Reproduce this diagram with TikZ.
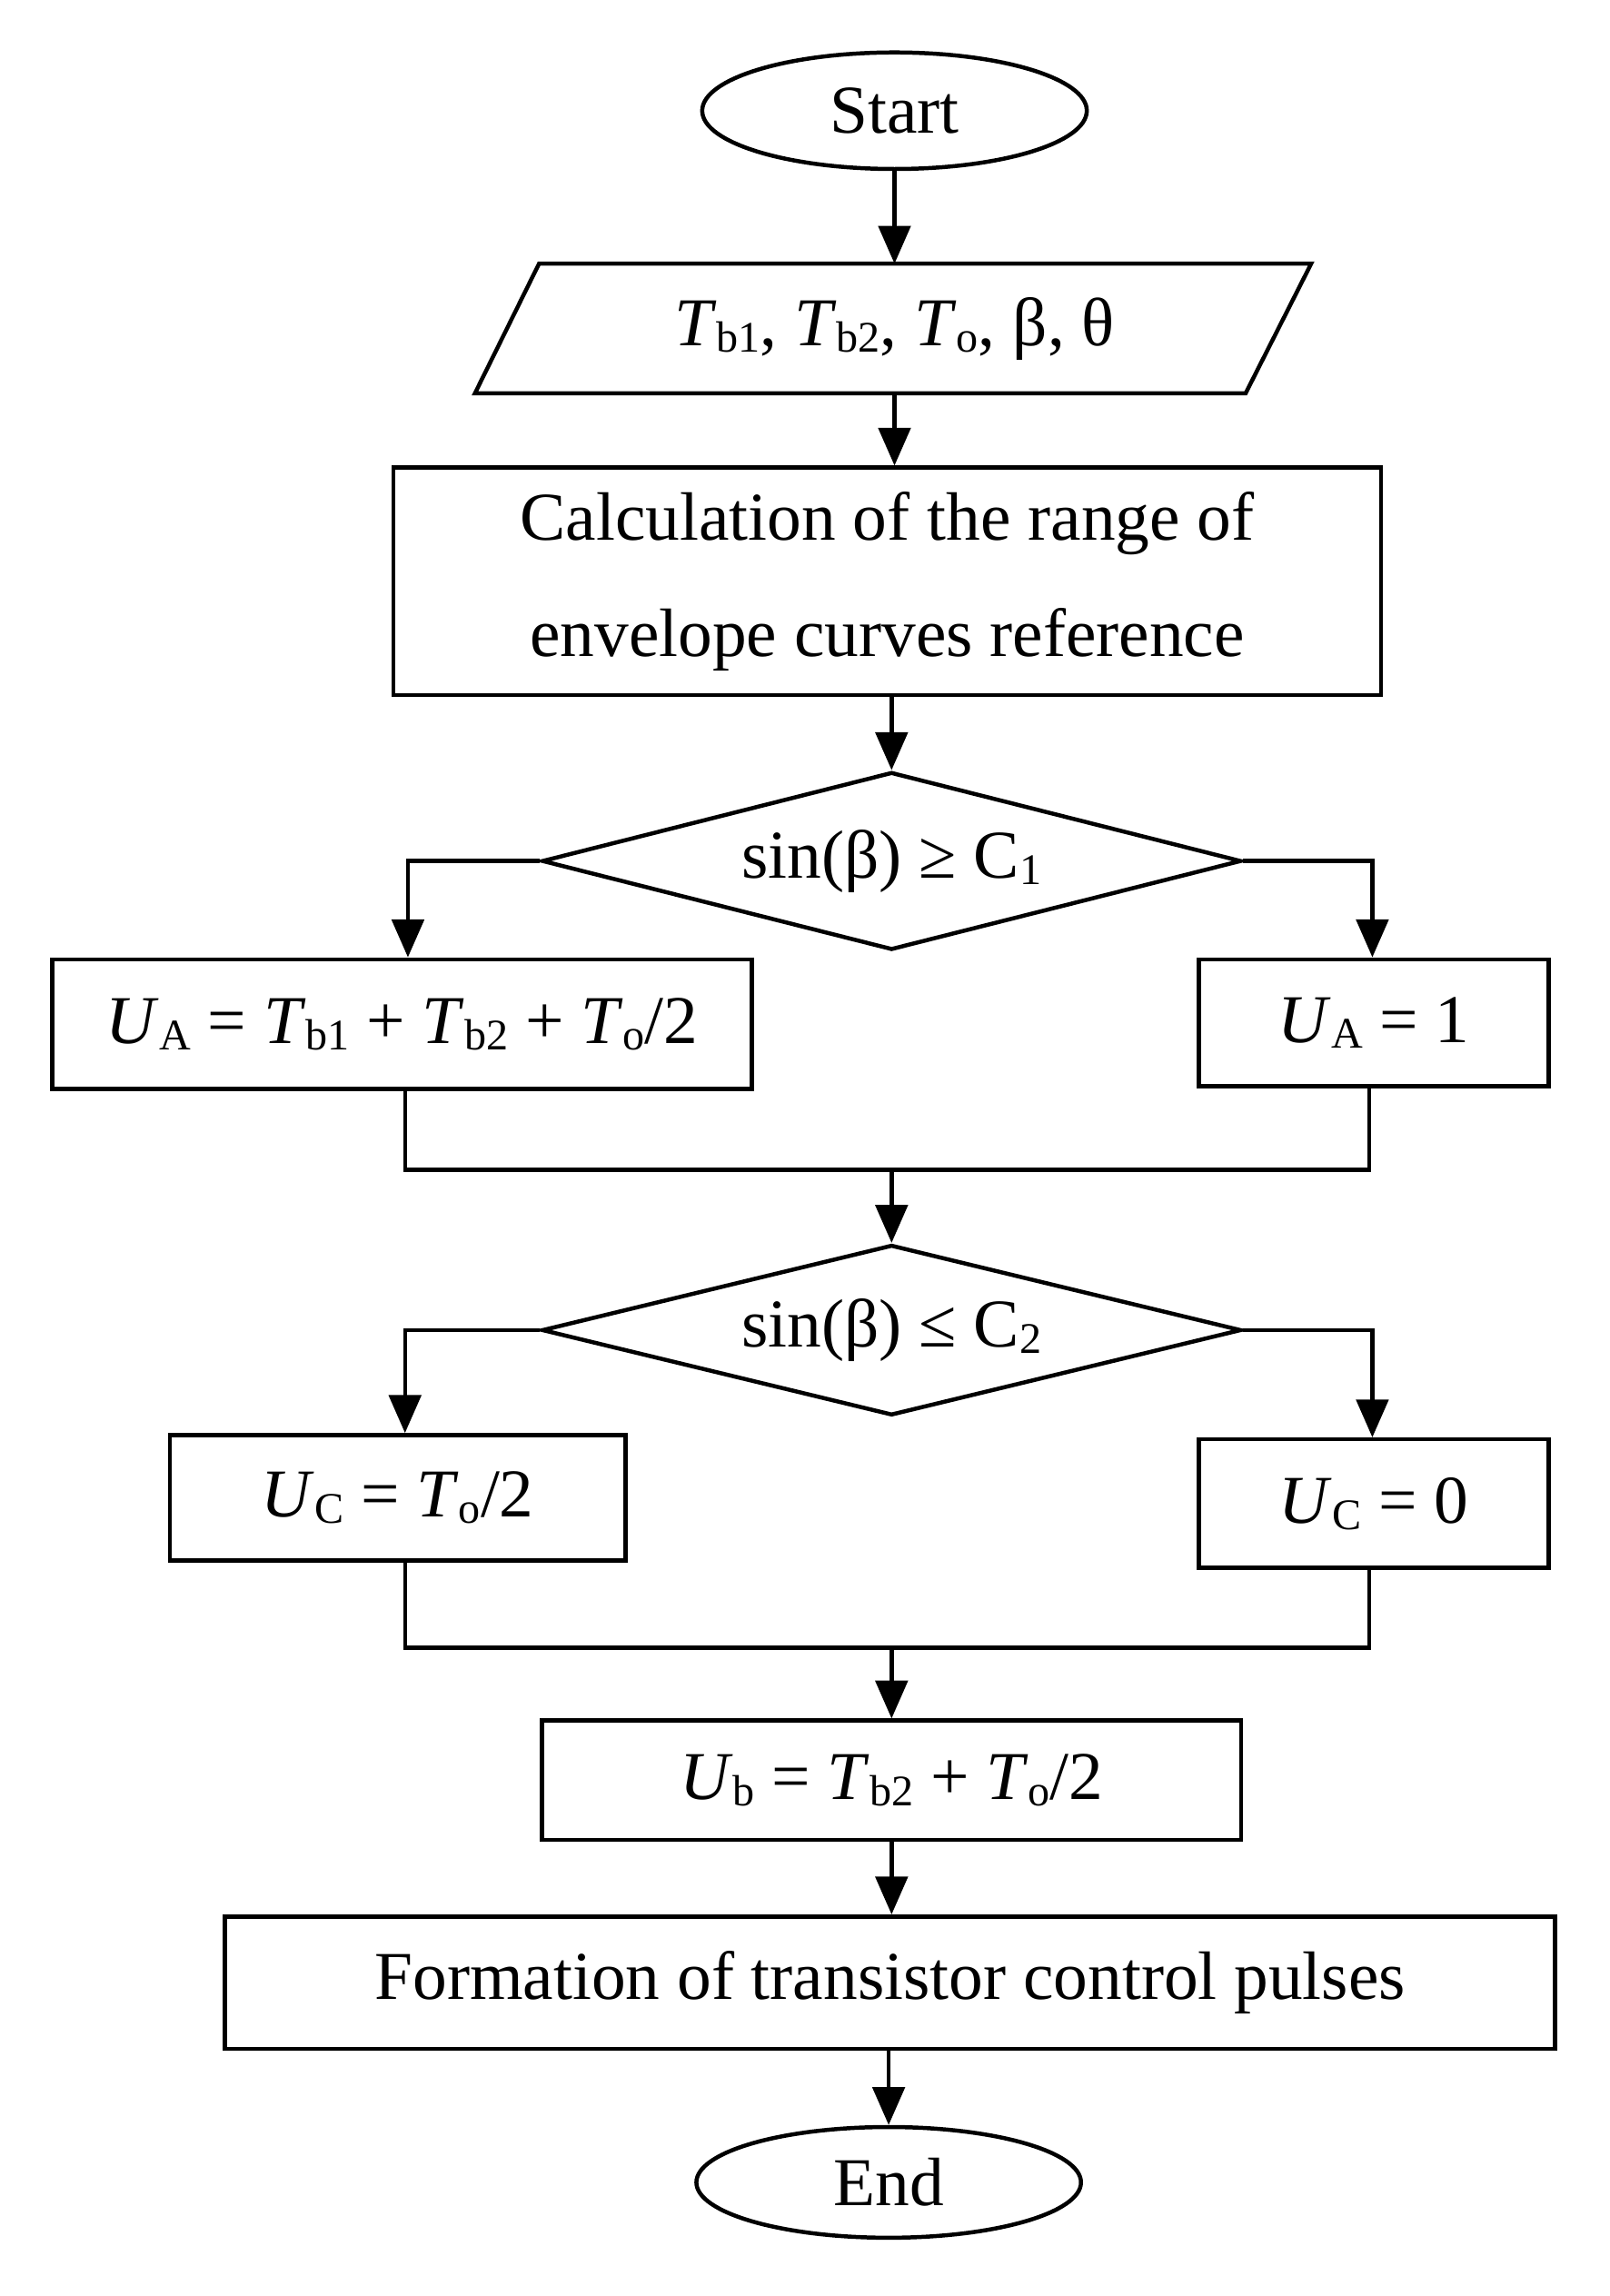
\documentclass[tikz,border=0pt]{standalone}
\usepackage{fontspec}
\setmainfont{Liberation Serif}
\usetikzlibrary{shapes.geometric,arrows.meta}
\newcommand{\sbs}[1]{\raisebox{-0.2ex}{\fontsize{30}{32}\selectfont #1}}
\begin{document}
\begin{tikzpicture}[x=1pt,y=-1pt,line width=2.8pt,
  box/.style={draw,rectangle,inner sep=0pt,align=center,font=\fontsize{47}{80}\selectfont},
  term/.style={draw,ellipse,inner sep=0pt,font=\fontsize{47}{50}\selectfont},
  dec/.style={draw,diamond,inner sep=0pt,aspect=4,font=\fontsize{47}{50}\selectfont},
  arr/.style={-{Triangle[length=26pt,width=22pt]}},
  txt/.style={font=\fontsize{47}{50}\selectfont}]
\useasboundingbox (0,0) rectangle (1105,1576);
\node[term,minimum width=264pt,minimum height=80pt] (start) at (614,76) {Start};
\node[txt] (in) at (614,226) {\textit{T}\sbs{b1}, \textit{T}\sbs{b2}, \textit{T}\sbs{o}, β, θ};
\draw (370,181) -- (900,181) -- (855,270) -- (326,270) -- cycle;
\coordinate (intop) at (614,181);
\coordinate (inbot) at (614,270);
\node[box,minimum width=678pt,minimum height=156pt] (calc) at (609,399) {Calculation of the range of\\envelope curves reference};
\node[dec,minimum width=480pt,minimum height=122pt] (d1) at (612,591) {sin(β) ≥ C\sbs{1}};
\node[box,minimum width=480pt,minimum height=89pt] (ua1) at (276,703) {\textit{U}\sbs{A} = \textit{T}\sbs{b1} + \textit{T}\sbs{b2} + \textit{T}\sbs{o}/2};
\node[box,minimum width=240pt,minimum height=87pt] (ua2) at (943,702) {\textit{U}\sbs{A} = 1};
\coordinate (j1) at (612,803);
\node[dec,minimum width=480pt,minimum height=117pt] (d2) at (612,913) {sin(β) ≤ C\sbs{2}};
\node[box,minimum width=313pt,minimum height=86pt] (uc1) at (273,1028) {\textit{U}\sbs{C} = \textit{T}\sbs{o}/2};
\node[box,minimum width=240pt,minimum height=88pt] (uc2) at (943,1032) {\textit{U}\sbs{C} = 0};
\coordinate (j2) at (612,1131);
\node[box,minimum width=480pt,minimum height=82pt] (ub) at (612,1222) {\textit{U}\sbs{b} = \textit{T}\sbs{b2} + \textit{T}\sbs{o}/2};
\node[box,minimum width=913pt,minimum height=91pt] (form) at (611,1361) {Formation of transistor control pulses};
\node[term,minimum width=264pt,minimum height=76pt] (end) at (610,1498) {End};
\draw[arr] (start) -- (intop);
\draw[arr] (inbot) -- (calc.north -| inbot);
\draw[arr] (calc.south -| d1.north) -- (d1.north);
\draw[arr] (d1.west) -| (ua1.north -| 280,0);
\draw[arr] (d1.east) -| (ua2.north -| 942,0);
\draw (ua1.south -| 278,0) |- (j1) -| (ua2.south -| 940,0);
\draw[arr] (j1) -- (d2.north);
\draw[arr] (d2.west) -| (uc1.north -| 278,0);
\draw[arr] (d2.east) -| (uc2.north -| 942,0);
\draw (uc1.south -| 278,0) |- (j2) -| (uc2.south -| 940,0);
\draw[arr] (j2) -- (ub.north);
\draw[arr] (ub.south) -- (form.north -| ub.south);
\draw[arr] (form.south -| end.north) -- (end.north);
\end{tikzpicture}
\end{document}
